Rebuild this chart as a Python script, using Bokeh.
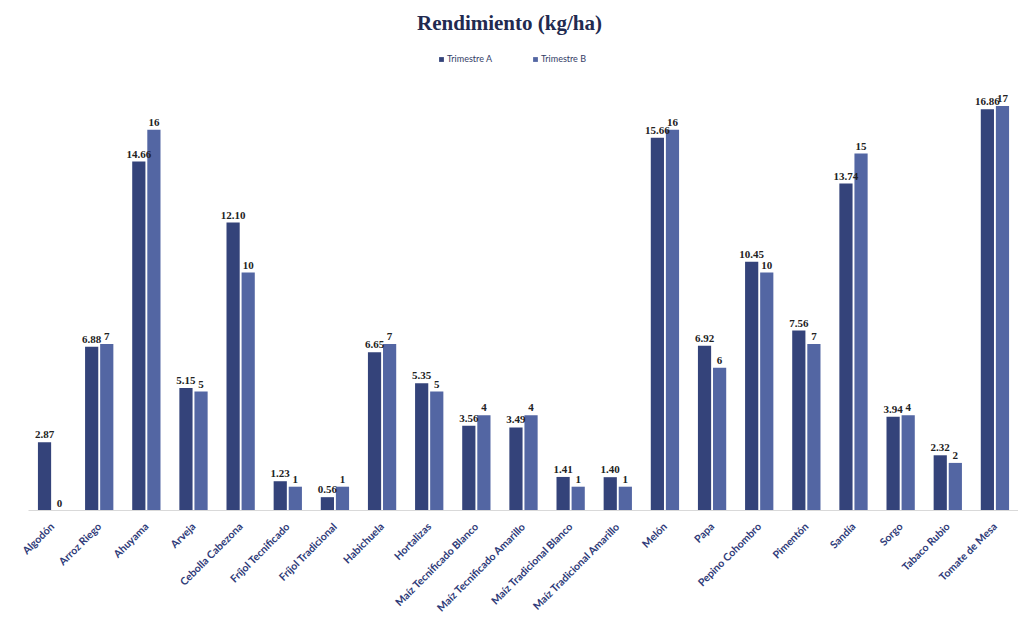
import math
from bokeh.plotting import figure
from bokeh.models import ColumnDataSource, Label, Legend, LegendItem, Range1d, FactorRange
from bokeh.transform import dodge
from bokeh.core.properties import value
from bokeh.embed import file_html
from bokeh.resources import INLINE

cultivos = ["Algodón", "Arroz Riego", "Ahuyama", "Arveja", "Cebolla Cabezona",
            "Fríjol Tecnificado", "Fríjol Tradicional", "Habichuela", "Hortalizas",
            "Maíz Tecnificado Blanco", "Maíz Tecnificado Amarillo",
            "Maíz Tradicional Blanco", "Maíz Tradicional Amarillo", "Melón", "Papa",
            "Pepino Cohombro", "Pimentón", "Sandía", "Sorgo", "Tabaco Rubio",
            "Tomate de Mesa"]
serie_a = [2.87, 6.88, 14.66, 5.15, 12.10, 1.23, 0.56, 6.65, 5.35, 3.56, 3.49,
           1.41, 1.40, 15.66, 6.92, 10.45, 7.56, 13.74, 3.94, 2.32, 16.86]
serie_b = [0, 7, 16, 5, 10, 1, 1, 7, 5, 4, 4, 1, 1, 16, 6, 10, 7, 15, 4, 2, 17]
nombres = ["Trimestre A", "Trimestre B"]

col_a = "#34437A"
col_b = "#5366A3"

src = ColumnDataSource(dict(
    x=cultivos, a=serie_a, b=serie_b,
    la=["%.2f" % v for v in serie_a],
    lb=["%g" % v for v in serie_b],
))

p = figure(width=1018, height=635, x_range=FactorRange(*cultivos),
           y_range=Range1d(0, 21.43), output_backend="svg", toolbar_location=None,
           min_border_left=28, min_border_right=0, min_border_top=0,
           min_border_bottom=125)
p.outline_line_color = None
p.background_fill_color = "white"
p.border_fill_color = "white"
p.xgrid.grid_line_color = None
p.ygrid.grid_line_color = None
p.yaxis.visible = False

ra = p.vbar(x=dodge("x", -0.16, range=p.x_range), top="a", width=0.28, source=src,
            fill_color=col_a, line_color=None)
rb = p.vbar(x=dodge("x", 0.16, range=p.x_range), top="b", width=0.28, source=src,
            fill_color=col_b, line_color=None)

p.text(x=dodge("x", -0.16, range=p.x_range), y="a", text="la", source=src,
       text_align="center", text_baseline="bottom", y_offset=-4,
       text_font=value("Liberation Serif"), text_font_style="bold",
       text_font_size="11px", text_color="#222222")
p.text(x=dodge("x", 0.16, range=p.x_range), y="b", text="lb", source=src,
       text_align="center", text_baseline="bottom", y_offset=-4,
       text_font=value("Liberation Serif"), text_font_style="bold",
       text_font_size="11px", text_color="#222222")

ax = p.xaxis[0]
ax.axis_line_color = "#D9D9D9"
ax.major_tick_line_color = None
ax.minor_tick_line_color = None
ax.major_label_orientation = math.pi / 4
ax.major_label_text_font = "Lato"
ax.major_label_text_font_style = "bold"
ax.major_label_text_font_size = "10.5px"
ax.major_label_text_color = "#2E3A78"
ax.major_label_standoff = 8

p.add_layout(Label(x=481, y=488, x_units="screen", y_units="screen",
                   text="Rendimiento (kg/ha)", text_align="center",
                   text_baseline="middle", text_font="Liberation Serif",
                   text_font_style="bold", text_font_size="21px",
                   text_color="#222A50"))

legend = Legend(items=[LegendItem(label=nombres[0], renderers=[ra]),
                       LegendItem(label=nombres[1], renderers=[rb])],
                orientation="horizontal", location=(410, 446),
                background_fill_alpha=0, border_line_color=None,
                label_text_font="Lato", label_text_font_size="9px",
                label_text_color="#333B66", glyph_width=6, glyph_height=6,
                label_standoff=3, spacing=40, padding=2, margin=0)
p.add_layout(legend, "center")

open("out.html", "w").write(file_html(p, INLINE))
